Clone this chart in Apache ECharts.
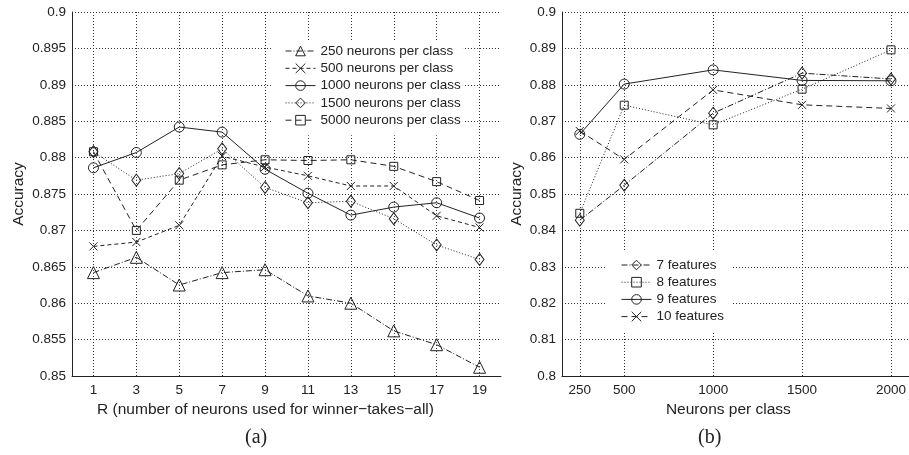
<!DOCTYPE html>
<html>
<head>
<meta charset="utf-8">
<script src="https://cdn.jsdelivr.net/npm/echarts@6/dist/echarts.min.js"></script>
<style>
  html, body { margin: 0; padding: 0; background: #fff; }
  #chart { width: 909px; height: 455px; }
</style>
</head>
<body>
<div id="chart"></div>
<script>
// (a) accuracy vs R, one line per neurons-per-class setting
const rValues = [1, 3, 5, 7, 9, 11, 13, 15, 17, 19];
const acc250 = [0.8642, 0.8663, 0.8625, 0.8642, 0.8646, 0.8610, 0.8600, 0.8562, 0.8543, 0.8512];
const acc500 = [0.8678, 0.8684, 0.8707, 0.8802, 0.8787, 0.8775, 0.8761, 0.8761, 0.8720, 0.8704];
const acc1000 = [0.8786, 0.8807, 0.8842, 0.8835, 0.8784, 0.8751, 0.8721, 0.8732, 0.8738, 0.8717];
const acc1500 = [0.8808, 0.8769, 0.8778, 0.8812, 0.8759, 0.8738, 0.8740, 0.8716, 0.8680, 0.8660];
const acc5000 = [0.8808, 0.8700, 0.8769, 0.8790, 0.8797, 0.8796, 0.8797, 0.8788, 0.8767, 0.8741];

// (b) accuracy vs neurons per class, one line per feature count
const neurons = [250, 500, 1000, 1500, 2000];
const feat7 = [0.8428, 0.8524, 0.8722, 0.8832, 0.8816];
const feat8 = [0.8447, 0.8744, 0.8690, 0.8788, 0.8896];
const feat9 = [0.8664, 0.8802, 0.8841, 0.8812, 0.8811];
const feat10 = [0.8673, 0.8595, 0.8786, 0.8745, 0.8735];

const ink = '#222';
const font = "'Liberation Sans', Arial, sans-serif";
const serif = "'Liberation Serif', 'DejaVu Serif', serif";
const crossPath = 'path://M0,0L10,10M10,0L0,10';
const gridLine = { color: '#333', type: [1, 2], width: 1 };

const chart = echarts.init(document.getElementById('chart'));

function mkSeries(name, xs, ys, axis, symbol, size, dash) {
  return {
    name: name,
    type: 'line',
    xAxisIndex: axis,
    yAxisIndex: axis,
    data: xs.map((x, i) => [x, ys[i]]),
    symbol: symbol,
    symbolSize: size,
    showSymbol: true,
    lineStyle: { color: ink, width: 1, type: dash },
    itemStyle: { color: 'rgba(255,255,255,0)', borderColor: ink, borderWidth: 1 },
    emphasis: { disabled: true },
    z: 3
  };
}

function yLabel(v) {
  return String(+v.toFixed(3));
}

const axisText = { color: ink, fontSize: 13.5, fontFamily: font };

function nameText(shift) {
  // shift the centred axis title left by `shift` px
  return { color: ink, fontSize: 15.5, fontFamily: font, padding: [0, shift * 2, 0, 0] };
}

function mkLegend(names, left, top, padding, gap) {
  return {
    data: names,
    orient: 'vertical', left: left, top: top,
    padding: padding, itemGap: gap,
    itemWidth: 30, itemHeight: 12,
    backgroundColor: '#fff', selectedMode: false,
    itemStyle: { borderWidth: 1 },
    lineStyle: { width: 1 },
    textStyle: { color: ink, fontSize: 13.5, fontFamily: font },
    z: 10
  };
}

const option = {
  animation: false,
  backgroundColor: '#fff',
  textStyle: { fontFamily: font },
  grid: [
    { left: 72, top: 12, width: 429, bottom: 79 },
    { left: 562, top: 12, right: 0, bottom: 79 }
  ],
  xAxis: [
    {
      gridIndex: 0, type: 'value', min: 0, max: 20,
      name: 'R (number of neurons used for winner\u2212takes\u2212all)',
      nameLocation: 'middle', nameGap: 23, nameTextStyle: nameText(21),
      axisLine: { show: true, onZero: false, lineStyle: { color: ink, width: 1 } },
      axisTick: { show: false, customValues: rValues },
      axisLabel: { customValues: rValues, margin: 7, ...axisText },
      splitLine: { show: true, lineStyle: gridLine }
    },
    {
      gridIndex: 1, type: 'value', min: 150, max: 2100,
      name: 'Neurons per class',
      nameLocation: 'middle', nameGap: 23, nameTextStyle: nameText(7),
      axisLine: { show: true, onZero: false, lineStyle: { color: ink, width: 1 } },
      axisTick: { show: false, customValues: neurons },
      axisLabel: { customValues: neurons, margin: 7, formatter: v => String(v), ...axisText },
      splitLine: { show: true, lineStyle: gridLine }
    }
  ],
  yAxis: [
    {
      gridIndex: 0, type: 'value', min: 0.85, max: 0.9, interval: 0.005,
      name: 'Accuracy', nameLocation: 'middle', nameGap: 45, nameRotate: 90,
      nameTextStyle: nameText(0),
      axisLine: { show: true, onZero: false, lineStyle: { color: ink, width: 1 } },
      axisTick: { show: false },
      axisLabel: { formatter: yLabel, margin: 6, ...axisText },
      splitLine: { show: true, lineStyle: gridLine }
    },
    {
      gridIndex: 1, type: 'value', min: 0.8, max: 0.9, interval: 0.01,
      name: 'Accuracy', nameLocation: 'middle', nameGap: 37, nameRotate: 90,
      nameTextStyle: nameText(0),
      axisLine: { show: true, onZero: false, lineStyle: { color: ink, width: 1 } },
      axisTick: { show: false },
      axisLabel: { formatter: yLabel, margin: 6, ...axisText },
      splitLine: { show: true, lineStyle: gridLine }
    }
  ],
  legend: [
    mkLegend(['250 neurons per class', '500 neurons per class', '1000 neurons per class',
              '1500 neurons per class', '5000 neurons per class'],
             273, 40, [4, 2, 8, 12], 3.3),
    mkLegend(['7 features', '8 features', '9 features', '10 features'],
             607, 251, [7, 7, 9, 14], 3.2)
  ],
  graphic: [
    { type: 'text', left: 245, top: 428,
      style: { text: '(a)', fontSize: 20, fontFamily: serif, fill: ink } },
    { type: 'text', left: 698, top: 428,
      style: { text: '(b)', fontSize: 20, fontFamily: serif, fill: ink } }
  ],
  series: [
    mkSeries('250 neurons per class', rValues, acc250, 0, 'triangle', 12, [6, 2, 1, 2]),
    mkSeries('500 neurons per class', rValues, acc500, 0, crossPath, 8, [4, 3]),
    mkSeries('1000 neurons per class', rValues, acc1000, 0, 'circle', 10, 'solid'),
    mkSeries('1500 neurons per class', rValues, acc1500, 0, 'diamond', [9, 12], [1, 2]),
    mkSeries('5000 neurons per class', rValues, acc5000, 0, 'rect', 8, [6, 4]),
    mkSeries('7 features', neurons, feat7, 1, 'diamond', [9, 12], [6, 2, 1, 2]),
    mkSeries('8 features', neurons, feat8, 1, 'rect', 8, [1, 2]),
    mkSeries('9 features', neurons, feat9, 1, 'circle', 10, 'solid'),
    mkSeries('10 features', neurons, feat10, 1, crossPath, 8, [6, 4])
  ]
};

chart.setOption(option);
</script>
</body>
</html>
